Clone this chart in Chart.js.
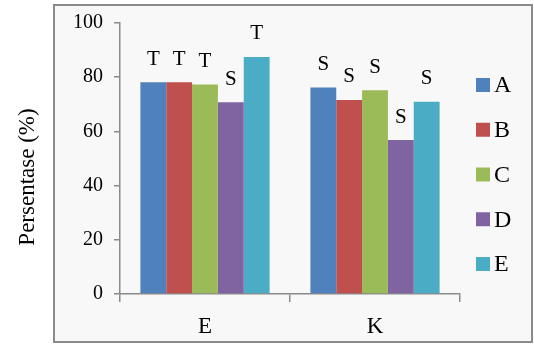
<!DOCTYPE html>
<html>
<head>
<meta charset="utf-8">
<script src="https://cdn.jsdelivr.net/npm/chart.js@4"></script>
<style>
  html, body { margin: 0; padding: 0; background: #fff; }
  #wrap { width: 534px; height: 345px; }
</style>
</head>
<body>
<div id="wrap"><canvas id="barChart" width="534" height="345"></canvas></div>
<script>
// data
const categories = ["E", "K"];
const seriesNames = ["A", "B", "C", "D", "E"];
const seriesColors = ["#4f81bd", "#c0504d", "#9bbb59", "#8064a2", "#4bacc6"];
const valuesA = [78.1, 76.2];
const valuesB = [78.1, 71.6];
const valuesC = [77.3, 75.2];
const valuesD = [70.8, 56.8];
const valuesE = [87.5, 70.9];
const labelsA = ["T", "S"];
const labelsB = ["T", "S"];
const labelsC = ["T", "S"];
const labelsD = ["S", "S"];
const labelsE = ["T", "S"];
const yTicks = [0, 20, 40, 60, 80, 100];
const yTitle = "Persentase (%)";

const FONT = "'Liberation Serif', 'Times New Roman', serif";

const allValues = [valuesA, valuesB, valuesC, valuesD, valuesE];
const allLabels = [labelsA, labelsB, labelsC, labelsD, labelsE];

// white page, grey frame round the chart
const frame = {
    id: "frame",
    beforeDraw(chart) {
        const c = chart.ctx;
        c.save();
        c.fillStyle = "#ffffff";
        c.fillRect(0, 0, chart.width, chart.height);
        c.fillStyle = "#f8f8f8";
        c.fillRect(54, 5, 478, 337);
        c.strokeStyle = "#8a8a8a";
        c.lineWidth = 2;
        c.strokeRect(54, 5, 478, 337);
        c.restore();
    }
};

// T / S letters above the bars
const barLetters = {
    id: "barLetters",
    afterDatasetsDraw(chart) {
        const c = chart.ctx;
        c.save();
        c.font = "21px " + FONT;
        c.fillStyle = "#000";
        c.textAlign = "center";
        c.textBaseline = "middle";
        chart.data.datasets.forEach((ds, i) => {
            chart.getDatasetMeta(i).data.forEach((bar, j) => {
                c.fillText(allLabels[i][j], bar.x, bar.y - 23);
            });
        });
        c.restore();
    }
};

// legend on the right and the rotated y title
const sideText = {
    id: "sideText",
    afterDraw(chart) {
        const c = chart.ctx;
        c.save();
        c.font = "24px " + FONT;
        c.textBaseline = "middle";
        c.textAlign = "left";
        chart.data.datasets.forEach((ds, i) => {
            const y = 85 + i * 44.75;
            c.fillStyle = ds.backgroundColor;
            c.fillRect(476, y - 7, 14, 14);
            c.fillStyle = "#000";
            c.fillText(ds.label, 494, y + 1);
        });
        c.translate(28, 177);
        c.rotate(-Math.PI / 2);
        c.textAlign = "center";
        c.font = "23px " + FONT;
        c.fillText(yTitle, 0, 0);
        c.restore();
    }
};

const ctx = document.getElementById("barChart").getContext("2d");

new Chart(ctx, {
    type: "bar",
    data: {
        labels: categories,
        datasets: seriesNames.map((name, i) => ({
            label: name,
            data: allValues[i],
            backgroundColor: seriesColors[i],
            borderWidth: 0,
            barPercentage: 1,
            categoryPercentage: 0.76
        }))
    },
    options: {
        responsive: false,
        animation: false,
        layout: { padding: { left: 0, right: 74, top: 19, bottom: 0 } },
        scales: {
            x: {
                afterFit: (s) => { s.height = 51; },
                border: { color: "#8a8a8a", width: 1.5 },
                grid: {
                    offset: true,
                    drawOnChartArea: false,
                    drawTicks: true,
                    tickLength: 8,
                    color: "#8a8a8a",
                    lineWidth: 1.5
                },
                ticks: {
                    color: "#000",
                    padding: 11,
                    font: { family: FONT, size: 23 }
                }
            },
            y: {
                min: 0,
                max: 100,
                afterFit: (s) => { s.width = 120; },
                afterBuildTicks: (s) => { s.ticks = yTicks.map(v => ({ value: v })); },
                border: { color: "#8a8a8a", width: 1.5 },
                grid: {
                    drawOnChartArea: false,
                    drawTicks: true,
                    tickLength: 6,
                    color: "#8a8a8a",
                    lineWidth: 1.5
                },
                ticks: {
                    color: "#000",
                    padding: 11,
                    font: { family: FONT, size: 20 }
                }
            }
        },
        plugins: {
            legend: { display: false },
            tooltip: { enabled: false }
        }
    },
    plugins: [frame, barLetters, sideText]
});
</script>
</body>
</html>
